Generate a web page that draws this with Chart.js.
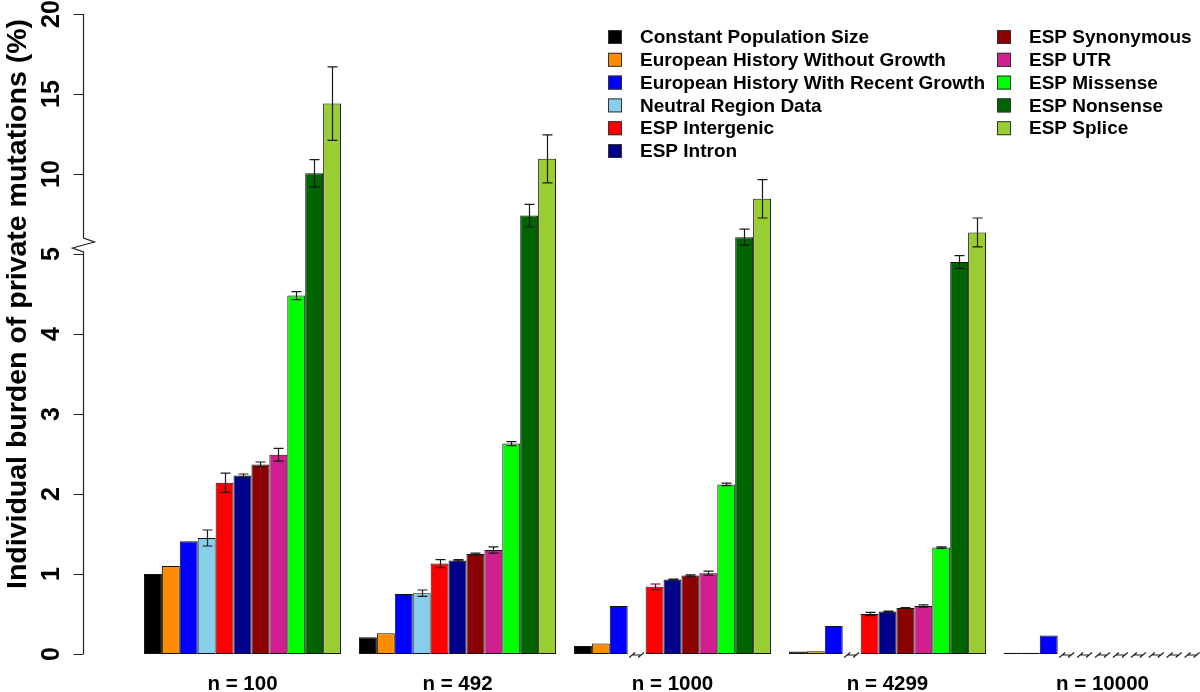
<!DOCTYPE html>
<html>
<head>
<meta charset="utf-8">
<script src="https://cdn.jsdelivr.net/npm/chart.js@4.4.1/dist/chart.umd.min.js"></script>
<style>
  html, body { margin: 0; padding: 0; background: #ffffff; overflow: hidden; }
  #wrap { width: 1212px; height: 692px; }
  canvas { display: block; }
</style>
</head>
<body>
<div id="wrap"><canvas id="c" width="1212" height="692" style="width:1212px;height:692px"></canvas></div>
<script>
// ---------------- DATA ----------------
const categories = ['n = 100', 'n = 492', 'n = 1000', 'n = 4299', 'n = 10000'];

const seriesNames = [
  'Constant Population Size',
  'European History Without Growth',
  'European History With Recent Growth',
  'Neutral Region Data',
  'ESP Intergenic',
  'ESP Intron',
  'ESP Synonymous',
  'ESP UTR',
  'ESP Missense',
  'ESP Nonsense',
  'ESP Splice'
];

const seriesColors = [
  '#000000', '#FF8C00', '#0000FF', '#87CEEB', '#FF0000', '#00008B',
  '#8B0000', '#D02090', '#00FF00', '#006400', '#9ACD32'
];

// burden values (%) per category; null = not available
const constantPop      = [1.00, 0.21, 0.10, 0.03, 0.015];
const euroNoGrowth     = [1.10, 0.26, 0.13, 0.035, 0.015];
const euroGrowth       = [1.41, 0.75, 0.60, 0.35, 0.23];
const neutralRegion    = [1.45, 0.76, null, null, null];
const espIntergenic    = [2.14, 1.13, 0.84, 0.50, null];
const espIntron        = [2.23, 1.17, 0.93, 0.53, null];
const espSynonymous    = [2.37, 1.25, 0.98, 0.575, null];
const espUTR           = [2.49, 1.30, 1.01, 0.60, null];
const espMissense      = [4.48, 2.63, 2.12, 1.33, null];
const espNonsense      = [10.05, 7.40, 6.05, 4.90, null];
const espSplice        = [14.40, 10.95, 8.45, 6.35, null];

// error bar half-widths (%)
const errConstantPop   = [0, 0, 0, 0, 0];
const errEuroNoGrowth  = [0, 0, 0, 0, 0];
const errEuroGrowth    = [0, 0, 0, 0, 0];
const errNeutralRegion = [0.10, 0.04, null, null, null];
const errIntergenic    = [0.12, 0.05, 0.035, 0.02, null];
const errIntron        = [0.02, 0.01, 0.006, 0.006, null];
const errSynonymous    = [0.03, 0.012, 0.01, 0.006, null];
const errUTR           = [0.08, 0.04, 0.025, 0.015, null];
const errMissense      = [0.05, 0.025, 0.015, 0.01, null];
const errNonsense      = [0.85, 0.70, 0.50, 0.08, null];
const errSplice        = [2.30, 1.50, 1.20, 0.90, null];

const yTickValues = [0, 1, 2, 3, 4, 5, 10, 15, 20];
const yTitle = 'Individual burden of private mutations (%)';

// ---------------- BUILD ----------------
const seriesValues = [constantPop, euroNoGrowth, euroGrowth, neutralRegion, espIntergenic,
  espIntron, espSynonymous, espUTR, espMissense, espNonsense, espSplice];
const seriesErrors = [errConstantPop, errEuroNoGrowth, errEuroGrowth, errNeutralRegion, errIntergenic,
  errIntron, errSynonymous, errUTR, errMissense, errNonsense, errSplice];

// broken axis: 0..5 linear, above 5 compressed 5:1
const BREAK_AT = 5, COMPRESS = 5;
function tf(v) { return v <= BREAK_AT ? v : BREAK_AT + (v - BREAK_AT) / COMPRESS; }

const FONT = '"Liberation Sans", Arial, Helvetica, sans-serif';

const datasets = seriesNames.map((name, i) => ({
  label: name,
  data: seriesValues[i].map(v => v === null ? null : tf(v)),
  backgroundColor: seriesColors[i],
  borderColor: '#111111',
  borderWidth: 1,
  borderSkipped: false,
  categoryPercentage: 11 / 12,
  barPercentage: 1.0
}));

const errorBarPlugin = {
  id: 'errorBars',
  afterDatasetsDraw(chart) {
    const ctx = chart.ctx, ys = chart.scales.y;
    ctx.save();
    ctx.strokeStyle = '#1a1a1a';
    ctx.lineWidth = 1.2;
    seriesValues.forEach((vals, i) => {
      const meta = chart.getDatasetMeta(i);
      vals.forEach((v, j) => {
        const e = seriesErrors[i][j];
        if (v === null || !e) return;
        const el = meta.data[j];
        const x = Math.round(el.x) + 0.5;
        const y1 = ys.getPixelForValue(tf(v + e));
        const y2 = ys.getPixelForValue(tf(v - e));
        ctx.beginPath();
        ctx.moveTo(x, y1); ctx.lineTo(x, y2);
        ctx.moveTo(x - 5, y1); ctx.lineTo(x + 5, y1);
        ctx.moveTo(x - 5, y2); ctx.lineTo(x + 5, y2);
        ctx.stroke();
      });
    });
    ctx.restore();
  }
};

const missingPlugin = {
  id: 'missingMarks',
  afterDatasetsDraw(chart) {
    const ctx = chart.ctx, ys = chart.scales.y, xs = chart.scales.x;
    const y0 = ys.getPixelForValue(0) + 1;
    ctx.save();
    ctx.strokeStyle = '#1a1a1a';
    ctx.lineWidth = 1.1;
    seriesValues.forEach((vals, i) => {
      vals.forEach((v, j) => {
        if (v !== null) return;
        const catW = xs.getPixelForValue(1) - xs.getPixelForValue(0);
        const w = catW * (11 / 12) / seriesNames.length;
        const cx = xs.getPixelForValue(j) + (i - (seriesNames.length - 1) / 2) * w;
        const a = cx - w / 4, b = cx + w / 4;
        ctx.beginPath();
        ctx.moveTo(a - 3, y0 + 2.5); ctx.lineTo(a + 3, y0 - 2.5);
        ctx.moveTo(b - 3, y0 + 2.5); ctx.lineTo(b + 3, y0 - 2.5);
        ctx.moveTo(a, y0); ctx.lineTo(b, y0);
        ctx.stroke();
      });
    });
    ctx.restore();
  }
};

const yAxisPlugin = {
  id: 'brokenYAxis',
  afterDraw(chart) {
    const ctx = chart.ctx, ys = chart.scales.y;
    const ax = 83.5;
    const yTop = ys.getPixelForValue(tf(yTickValues[yTickValues.length - 1]));
    const yBot = ys.getPixelForValue(0);
    const y5 = ys.getPixelForValue(tf(BREAK_AT));
    ctx.save();
    ctx.strokeStyle = '#222';
    ctx.lineWidth = 1.2;
    ctx.beginPath();
    ctx.moveTo(ax, yTop); ctx.lineTo(ax, y5 - 16);
    ctx.lineTo(ax + 11, y5 - 12);
    ctx.lineTo(ax - 11, y5 - 6);
    ctx.lineTo(ax, y5 - 2);
    ctx.lineTo(ax, yBot);
    yTickValues.forEach(t => {
      const y = Math.round(ys.getPixelForValue(tf(t))) + 0.5;
      ctx.moveTo(ax - 10, y); ctx.lineTo(ax, y);
    });
    ctx.stroke();

    ctx.fillStyle = '#000';
    ctx.font = 'bold 25px ' + FONT;
    ctx.textAlign = 'center';
    ctx.textBaseline = 'middle';
    yTickValues.forEach(t => {
      const y = ys.getPixelForValue(tf(t));
      ctx.save();
      ctx.translate(52, y);
      ctx.rotate(-Math.PI / 2);
      ctx.fillText(String(t), 0, 0);
      ctx.restore();
    });

    ctx.font = 'bold 28.5px ' + FONT;
    ctx.save();
    ctx.translate(18, 304);
    ctx.rotate(-Math.PI / 2);
    ctx.fillText(yTitle, 0, 0);
    ctx.restore();
    ctx.restore();
  }
};

const legendPlugin = {
  id: 'twoColLegend',
  afterDraw(chart) {
    const ctx = chart.ctx;
    const colX = [608, 997];
    const rowY0 = 37, rowH = 22.8;
    const perCol = 6;
    ctx.save();
    ctx.font = 'bold 19px ' + FONT;
    ctx.textAlign = 'left';
    ctx.textBaseline = 'middle';
    seriesNames.forEach((name, i) => {
      const col = i < perCol ? 0 : 1;
      const row = i < perCol ? i : i - perCol;
      const x = colX[col], y = rowY0 + row * rowH;
      ctx.fillStyle = seriesColors[i];
      ctx.fillRect(x, y - 7, 14, 14);
      ctx.strokeStyle = '#333';
      ctx.lineWidth = 1;
      ctx.strokeRect(x + 0.5, y - 6.5, 13, 13);
      ctx.fillStyle = '#000';
      ctx.fillText(name, x + 32, y + 1);
    });
    ctx.restore();
  }
};

new Chart(document.getElementById('c'), {
  type: 'bar',
  data: { labels: categories, datasets },
  options: {
    responsive: false,
    animation: false,
    devicePixelRatio: 1,
    layout: { padding: { left: 135, right: 2, top: 14, bottom: 0 } },
    plugins: { legend: { display: false }, tooltip: { enabled: false } },
    scales: {
      x: {
        type: 'category',
        offset: true,
        grid: { display: false, drawTicks: false },
        border: { display: false },
        ticks: { color: '#000', font: { family: FONT, size: 20.5, weight: 'bold' }, padding: 18, maxRotation: 0, autoSkip: false },
        afterFit(scale) { scale.height = 38; }
      },
      y: {
        display: false,
        min: 0,
        max: tf(yTickValues[yTickValues.length - 1])
      }
    }
  },
  plugins: [errorBarPlugin, missingPlugin, yAxisPlugin, legendPlugin]
});
</script>
</body>
</html>
